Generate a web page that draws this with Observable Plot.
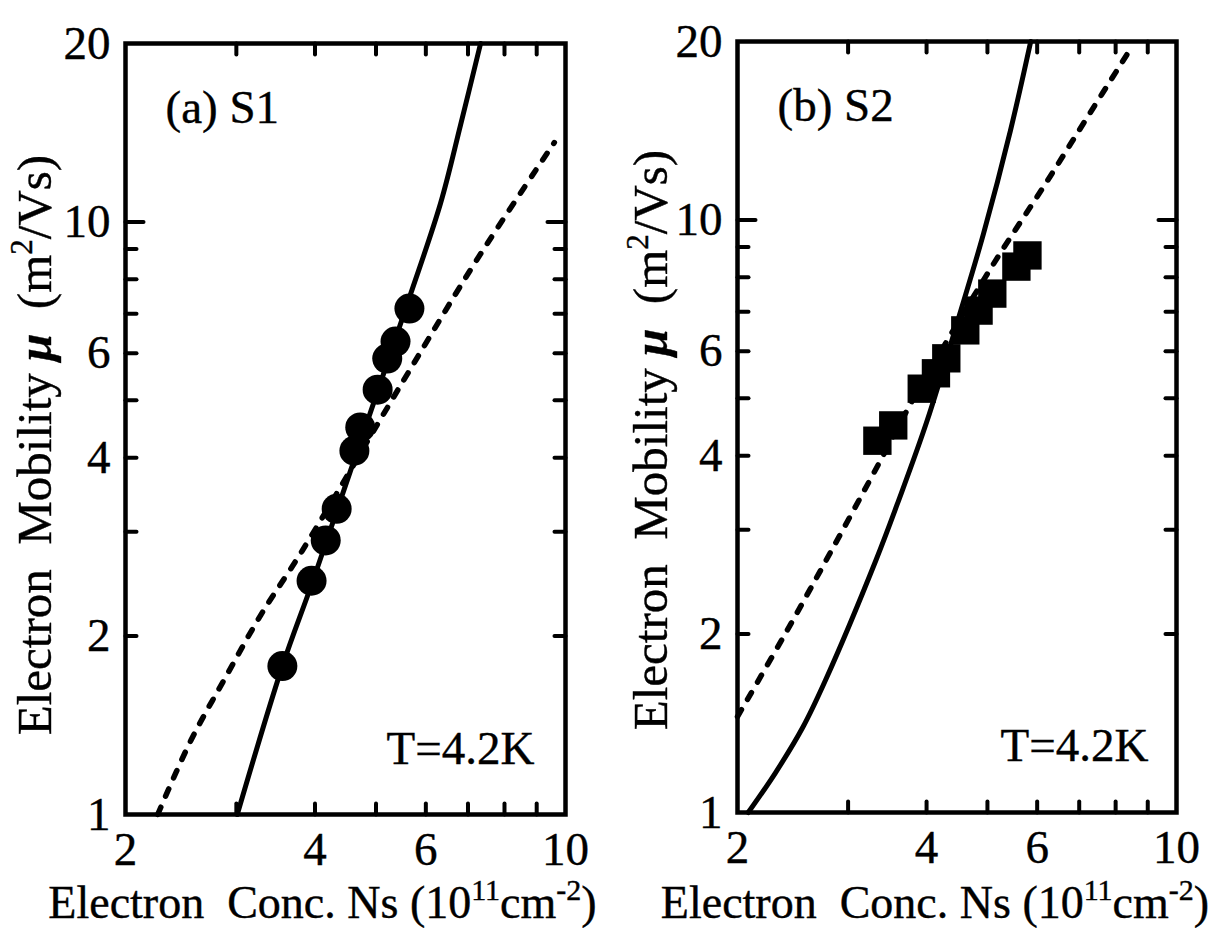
<!DOCTYPE html>
<html>
<head>
<meta charset="utf-8">
<script src="https://cdn.jsdelivr.net/npm/d3@7"></script>
<script src="https://cdn.jsdelivr.net/npm/@observablehq/plot@0.6"></script>
<style>
  html, body { margin: 0; padding: 0; background: #fff; overflow: hidden; }
  #wrap { display: flex; flex-direction: row; width: 1231px; height: 928px; }
  #wrap svg { display: block; max-width: none !important; }
  #wrap svg text { stroke: black; stroke-width: 0.4px; }
</style>
</head>
<body>
<div id="wrap"></div>
<script>
// ---------- data ----------
// axis ticks
const xTickLabels = [2, 4, 6, 10];
const yTickLabels = [1, 2, 4, 6, 10, 20];
const xMinorTicks = [3, 4, 5, 6, 7, 8, 9];
const yMinorTicks = [2, 3, 4, 5, 6, 7, 8, 9];
const yMajorTicks = [10];

// panel (a) S1 : measured points (circles)
const s1Ns = [3.55, 3.95, 4.16, 4.33, 4.62, 4.72, 5.03, 5.21, 5.37, 5.65];
const s1Mu = [1.78, 2.48, 2.90, 3.28, 4.11, 4.50, 5.21, 5.88, 6.28, 7.14];
// panel (a) solid curve
const s1SolidNs = [3.01, 3.55, 3.97, 4.67, 5.63, 6.33, 6.81, 7.33];
const s1SolidMu = [1.0, 1.78, 2.48, 4.11, 7.37, 10.74, 14.55, 20];
// panel (a) dashed curve
const s1DashNs = [2.25, 2.54, 2.88, 3.28, 3.82, 5.53, 7.22, 9.60];
const s1DashMu = [1.0, 1.333, 1.70, 2.17, 2.79, 5.40, 8.61, 13.61];

// panel (b) S2 : measured points (squares)
const s2Ns = [3.34, 3.54, 3.93, 4.14, 4.30, 4.61, 4.84, 5.09, 5.56, 5.79];
const s2Mu = [4.24, 4.50, 5.19, 5.51, 5.84, 6.51, 7.03, 7.51, 8.34, 8.71];
// panel (b) solid curve
const s2SolidNs = [2.08, 2.30, 2.54, 2.76, 3.32, 3.61, 4.01, 4.50, 4.93, 5.44, 5.86];
const s2SolidMu = [1.0, 1.168, 1.391, 1.67, 2.66, 3.36, 4.59, 6.84, 9.49, 14.15, 20];
// panel (b) dashed curve
const s2DashNs = [2.0, 2.40, 2.84, 3.38, 3.80, 5.06, 6.19, 7.16, 8.36];
const s2DashMu = [1.452, 2.03, 2.80, 3.93, 4.96, 8.28, 11.52, 14.72, 19.09];

// texts
const panelLabels = ["(a) S1", "(b) S2"];
const tempLabel = "T=4.2K";
const xTitle = "Electron  Conc. Ns (10¹¹cm⁻²)";
const yTitle = "Electron  Mobility μ  (m²/Vs)";
const xTitleParts = [{t: "Electron  Conc. Ns (10"}, {t: "11", sup: true}, {t: "cm"}, {t: "-2", sup: true}, {t: ")"}];
const yTitleParts = [{t: "Electron  Mobility "}, {t: "μ", bi: true}, {t: "  (m"}, {t: "2", sup: true}, {t: "/Vs)"}];

// ---------- helpers ----------
const zipXY = (xs, ys) => xs.map((x, i) => ({x, y: ys[i]}));
const tickBottom = {draw(c, l) { c.moveTo(0, 0); c.lineTo(0, -l); }};
const tickTop = {draw(c, l) { c.moveTo(0, 0); c.lineTo(0, l); }};
const tickLeft = {draw(c, l) { c.moveTo(0, 0); c.lineTo(l, 0); }};
const tickRight = {draw(c, l) { c.moveTo(0, 0); c.lineTo(-l, 0); }};

function rich(svg, plain, parts, supSize, supShift) {
  svg.querySelectorAll("text").forEach(el => {
    if (el.textContent !== plain) return;
    while (el.firstChild) el.removeChild(el.firstChild);
    el.style.whiteSpace = "pre";
    let shifted = false;
    for (const p of parts) {
      const ts = document.createElementNS("http://www.w3.org/2000/svg", "tspan");
      ts.textContent = p.t;
      if (p.sup) { ts.setAttribute("font-size", supSize); ts.setAttribute("dy", -supShift); shifted = true; }
      else if (shifted) { ts.setAttribute("dy", supShift); shifted = false; }
      if (p.bi) { ts.setAttribute("font-weight", "bold"); ts.setAttribute("font-style", "italic"); }
      el.appendChild(ts);
    }
  });
}

function panel({width, mL, mR, mT, mB, pts, symbol, r, solid, dash, label, xDx, xDy, yDx, yDy, tDx, tDy}) {
  const svg = Plot.plot({
    width, height: 928,
    marginLeft: mL, marginRight: mR, marginTop: mT, marginBottom: mB,
    style: {fontFamily: "'Liberation Serif', 'Times New Roman', serif", fontSize: "46px", color: "black", background: "white", overflow: "visible"},
    x: {type: "log", domain: [2, 10]},
    y: {type: "log", domain: [1, 20]},
    marks: [
      Plot.line(dash, {x: "x", y: "y", stroke: "black", strokeWidth: 5.5, strokeDasharray: "8,12", strokeLinecap: "round", curve: "catmull-rom"}),
      Plot.line(solid, {x: "x", y: "y", stroke: "black", strokeWidth: 5, curve: "catmull-rom"}),
      Plot.dot(pts, {x: "x", y: "y", r, symbol, fill: "black", stroke: "none"}),
      Plot.frame({stroke: "black", strokeWidth: 4.5}),
      Plot.vector(xMinorTicks, {x: d => d, frameAnchor: "bottom", length: 11, anchor: "start", shape: tickBottom, stroke: "black", strokeWidth: 4}),
      Plot.vector(xMinorTicks, {x: d => d, frameAnchor: "top", length: 11, anchor: "start", shape: tickTop, stroke: "black", strokeWidth: 4}),
      Plot.vector(yMinorTicks, {y: d => d, frameAnchor: "left", length: 11, anchor: "start", shape: tickLeft, stroke: "black", strokeWidth: 4}),
      Plot.vector(yMinorTicks, {y: d => d, frameAnchor: "right", length: 11, anchor: "start", shape: tickRight, stroke: "black", strokeWidth: 4}),
      Plot.vector(yMajorTicks, {y: d => d, frameAnchor: "left", length: 18, anchor: "start", shape: tickLeft, stroke: "black", strokeWidth: 4}),
      Plot.vector(yMajorTicks, {y: d => d, frameAnchor: "right", length: 18, anchor: "start", shape: tickRight, stroke: "black", strokeWidth: 4}),
      Plot.axisX(xTickLabels, {anchor: "bottom", tickSize: 0, tickPadding: 17, tickFormat: d => String(d), label: null, fontSize: 47}),
      Plot.axisY(yTickLabels, {anchor: "left", tickSize: 0, tickPadding: 15, tickFormat: d => String(d), label: null, fontSize: 47}),
      Plot.text([label], {text: d => d, frameAnchor: "top-left", dx: 40, dy: 79, textAnchor: "start", lineAnchor: "bottom", fontSize: 47}),
      Plot.text([tempLabel], {text: d => d, frameAnchor: "bottom-right", dx: tDx, dy: tDy, textAnchor: "end", lineAnchor: "bottom", fontSize: 47}),
      Plot.text([xTitle], {text: d => d, frameAnchor: "bottom", dx: xDx, dy: xDy, textAnchor: "middle", lineAnchor: "bottom", fontSize: 46}),
      Plot.text([yTitle], {text: d => d, frameAnchor: "left", rotate: -90, dx: yDx, dy: yDy, textAnchor: "middle", lineAnchor: "bottom", fontSize: 49})
    ]
  });
  rich(svg, xTitle, xTitleParts, 30, 18);
  rich(svg, yTitle, yTitleParts, 31, 19);
  return svg;
}

const wrap = document.getElementById("wrap");
wrap.appendChild(panel({
  width: 615, mL: 125, mR: 50, mT: 43, mB: 114,
  pts: zipXY(s1Ns, s1Mu), symbol: "circle", r: 15,
  solid: zipXY(s1SolidNs, s1SolidMu), dash: zipXY(s1DashNs, s1DashMu),
  label: panelLabels[0], xDx: -23, xDy: 103, yDx: -75, yDy: 16, tDx: -31, tDy: -51
}));
wrap.appendChild(panel({
  width: 616, mL: 122, mR: 55, mT: 41, mB: 116,
  pts: zipXY(s2Ns, s2Mu), symbol: "square", r: 16,
  solid: zipXY(s2SolidNs, s2SolidMu), dash: zipXY(s2DashNs, s2DashMu),
  label: panelLabels[1], xDx: -22, xDy: 105, yDx: -71, yDy: 13, tDx: -28, tDy: -52
}));
</script>
</body>
</html>
